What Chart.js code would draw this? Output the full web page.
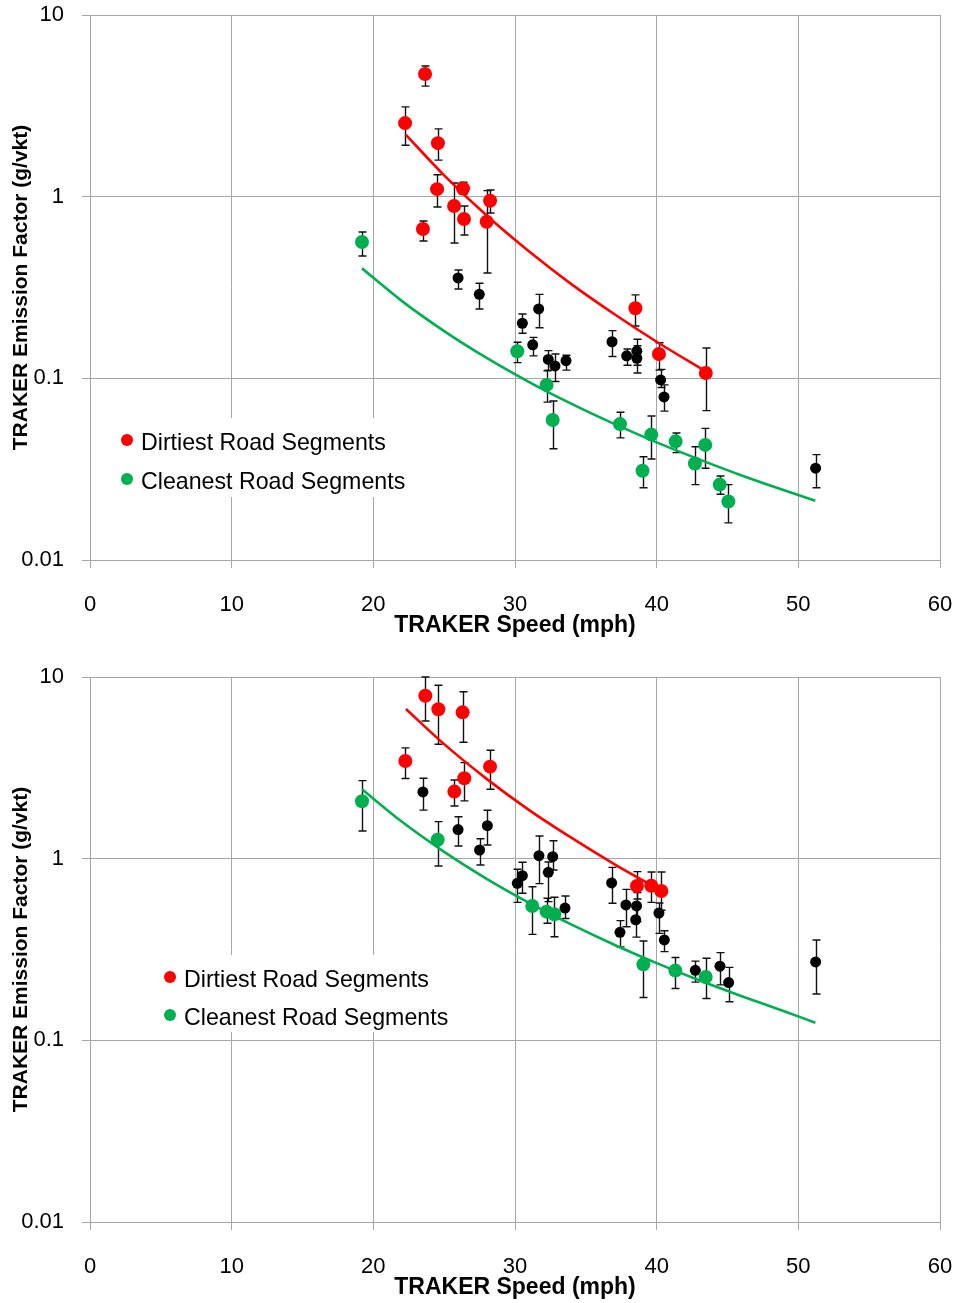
<!DOCTYPE html>
<html>
<head>
<meta charset="utf-8">
<title>TRAKER emission factor vs speed</title>
<script src="https://cdn.jsdelivr.net/npm/chart.js@4.4.1/dist/chart.umd.min.js"></script>
<style>
  html, body { margin: 0; padding: 0; background: #fff; }
  body { width: 956px; height: 1303px; position: relative; overflow: hidden; }
  canvas { position: absolute; left: 0; }
  #upper { top: 0; }
  #lower { top: 662px; }
</style>
</head>
<body>
<canvas id="upper" width="956" height="640"></canvas>
<canvas id="lower" width="956" height="640"></canvas>
<script>
// ---- axes ----
const xTicks = [0, 10, 20, 30, 40, 50, 60];
const yTicks = [0.01, 0.1, 1, 10];
const yTickLabels = ['0.01', '0.1', '1', '10'];
const xTitle = 'TRAKER Speed (mph)';
const yTitle = 'TRAKER Emission Factor (g/vkt)';
const dirtyLabel = 'Dirtiest Road Segments';
const cleanLabel = 'Cleanest Road Segments';

// ---- upper panel ----
const upperDirtySpeed = [23.65, 22.24, 24.56, 24.5, 26.33, 25.7, 26.4, 28.24, 28.0, 23.5, 38.5, 40.16, 43.47];
const upperDirtyEF    = [4.73, 2.54, 1.97, 1.10, 1.11, 0.888, 0.754, 0.95, 0.728, 0.664, 0.243, 0.136, 0.107];
const upperDirtyHi    = [5.24, 3.12, 2.36, 1.32, 1.20, 1.19, 0.888, 1.089, 1.08, 0.735, 0.288, 0.157, 0.147];
const upperDirtyLo    = [4.06, 1.92, 1.59, 0.877, 1.03, 0.556, 0.615, 0.813, 0.38, 0.570, 0.194, 0.111, 0.0664];

const upperCleanSpeed = [19.2, 30.16, 32.23, 32.66, 37.41, 39.0, 39.62, 41.34, 42.7, 43.43, 44.45, 45.06];
const upperCleanEF    = [0.563, 0.141, 0.092, 0.059, 0.056, 0.031, 0.049, 0.045, 0.034, 0.043, 0.026, 0.021];
const upperCleanHi    = [0.639, 0.158, 0.110, 0.075, 0.065, 0.037, 0.062, 0.050, 0.042, 0.053, 0.029, 0.026];
const upperCleanLo    = [0.471, 0.122, 0.074, 0.041, 0.047, 0.025, 0.036, 0.039, 0.026, 0.032, 0.023, 0.016];

const upperOtherSpeed = [25.98, 27.48, 30.52, 31.67, 31.25, 32.35, 32.82, 33.6, 36.85, 37.88, 38.6, 38.6, 40.28, 40.52, 51.22];
const upperOtherEF    = [0.357, 0.290, 0.201, 0.241, 0.153, 0.127, 0.117, 0.125, 0.159, 0.133, 0.141, 0.129, 0.098, 0.079, 0.032];
const upperOtherHi    = [0.395, 0.334, 0.226, 0.290, 0.168, 0.142, 0.136, 0.134, 0.183, 0.145, 0.164, 0.151, 0.112, 0.092, 0.038];
const upperOtherLo    = [0.310, 0.241, 0.177, 0.190, 0.133, 0.111, 0.096, 0.111, 0.132, 0.118, 0.118, 0.107, 0.089, 0.066, 0.025];

const upperDirtyTrendSpeed = [22.3, 25, 28, 31, 34, 37, 40, 43.3];
const upperDirtyTrendEF    = [2.19, 1.31, 0.787, 0.499, 0.329, 0.226, 0.159, 0.111];
const upperCleanTrendSpeed = [19.2, 22, 25, 28, 31, 34, 37, 40, 43, 46, 49, 51.2];
const upperCleanTrendEF    = [0.403, 0.267, 0.182, 0.1295, 0.0954, 0.0723, 0.0561, 0.0444, 0.0358, 0.0292, 0.0242, 0.0212];

// ---- lower panel ----
const lowerDirtySpeed = [23.67, 24.59, 26.3, 22.26, 28.24, 26.42, 25.72, 38.61, 39.62, 40.33];
const lowerDirtyEF    = [7.89, 6.64, 6.39, 3.45, 3.21, 2.77, 2.34, 0.707, 0.710, 0.664];
const lowerDirtyHi    = [10.0, 9.0, 8.3, 4.07, 3.95, 3.38, 2.71, 0.848, 0.845, 0.845];
const lowerDirtyLo    = [5.73, 4.26, 4.37, 2.76, 2.41, 2.08, 1.95, 0.60, 0.575, 0.52];

const lowerCleanSpeed = [19.2, 24.54, 31.22, 32.23, 32.78, 39.06, 41.32, 43.46];
const lowerCleanEF    = [2.07, 1.27, 0.549, 0.511, 0.494, 0.262, 0.242, 0.223];
const lowerCleanHi    = [2.69, 1.60, 0.701, 0.605, 0.613, 0.352, 0.286, 0.283];
const lowerCleanLo    = [1.42, 0.911, 0.383, 0.441, 0.372, 0.172, 0.193, 0.170];

const lowerOtherSpeed = [23.5, 25.98, 28.05, 27.5, 30.16, 30.52, 31.69, 32.66, 32.35, 33.53, 36.82, 37.83, 38.58, 38.52, 37.41, 40.16, 40.54, 42.73, 44.47, 45.08, 51.22];
const lowerOtherEF    = [2.33, 1.445, 1.52, 1.116, 0.732, 0.806, 1.039, 1.025, 0.841, 0.535, 0.735, 0.556, 0.549, 0.461, 0.393, 0.502, 0.357, 0.243, 0.256, 0.208, 0.270];
const lowerOtherHi    = [2.77, 1.70, 1.846, 1.288, 0.874, 0.955, 1.333, 1.256, 0.959, 0.623, 0.896, 0.678, 0.65, 0.53, 0.456, 0.57, 0.401, 0.273, 0.304, 0.252, 0.357];
const lowerOtherLo    = [1.85, 1.174, 1.19, 0.923, 0.575, 0.645, 0.729, 0.866, 0.58, 0.468, 0.568, 0.422, 0.45, 0.37, 0.327, 0.388, 0.308, 0.209, 0.202, 0.163, 0.180];

const lowerDirtyTrendSpeed = [22.3, 25, 28, 31, 34, 37, 39.6];
const lowerDirtyTrendEF    = [6.67, 4.27, 2.75, 1.85, 1.30, 0.934, 0.717];
const lowerCleanTrendSpeed = [19.2, 22, 25, 28, 31, 34, 37, 40, 43, 46, 49, 51.2];
const lowerCleanTrendEF    = [2.41, 1.60, 1.09, 0.775, 0.571, 0.433, 0.336, 0.266, 0.214, 0.175, 0.1445, 0.125];

// ---- styling ----
const RED = '#FF0000';
const GREEN = '#00B050';
const BLACK = '#000000';
const GRID = '#A6A6A6';
const FONT = "'Liberation Sans', Arial, Helvetica, sans-serif";

Chart.defaults.font.family = FONT;
Chart.defaults.color = '#000';

const toPoints = (xs, ys) => xs.map((x, i) => ({ x, y: ys[i] }));

// vertical error bars with caps, drawn under each series' markers
const errorBars = {
  id: 'errorBars',
  beforeDatasetDraw(chart, args) {
    const ds = chart.data.datasets[args.index];
    if (!ds.errHi) return;
    const { ctx, scales: { x, y } } = chart;
    const cap = 4;
    ctx.save();
    ctx.strokeStyle = '#111';
    ctx.lineWidth = 1.4;
    ds.data.forEach((p, i) => {
      const px = Math.round(x.getPixelForValue(p.x)) + 0.5;
      const top = Math.max(y.getPixelForValue(ds.errHi[i]), chart.chartArea.top);
      const bot = y.getPixelForValue(ds.errLo[i]);
      ctx.beginPath();
      ctx.moveTo(px, top); ctx.lineTo(px, bot);
      ctx.moveTo(px - cap, top); ctx.lineTo(px + cap, top);
      ctx.moveTo(px - cap, bot); ctx.lineTo(px + cap, bot);
      ctx.stroke();
    });
    ctx.restore();
  }
};

// boxed legend sitting inside the plot area
const boxLegend = {
  id: 'boxLegend',
  afterDatasetsDraw(chart, args, o) {
    const { ctx, chartArea } = chart;
    const L = chartArea.left, T = chartArea.top;
    ctx.save();
    ctx.fillStyle = '#fff';
    ctx.fillRect(L + o.left, T + o.top, o.width, o.height);
    const entries = chart.data.datasets.filter(d => d.inLegend);
    ctx.font = o.fontSize + 'px ' + FONT;
    ctx.textAlign = 'left';
    ctx.textBaseline = 'middle';
    entries.forEach((d, i) => {
      const cy = T + o.firstRow + i * o.rowGap;
      ctx.fillStyle = d.backgroundColor;
      ctx.beginPath();
      ctx.arc(L + o.markX, cy - 4, 6, 0, Math.PI * 2);
      ctx.fill();
      ctx.fillStyle = '#000';
      ctx.fillText(d.label, L + o.textX, cy);
    });
    ctx.restore();
  }
};

// fixed axis boxes so the plot area keeps the same frame in both panels
const fixX = sc => { sc.height = 80; sc.paddingLeft = 0; sc.paddingRight = 0; };
const fixY = sc => { sc.width = 90; sc.paddingTop = 0; sc.paddingBottom = 0; };

function makeChart(id, s, legendPos) {
  const scatter = (label, xs, ys, hi, lo, color, r, inLegend) => ({
    type: 'scatter', label, data: toPoints(xs, ys), errHi: hi, errLo: lo,
    backgroundColor: color, borderColor: color, borderWidth: 0,
    pointRadius: r, pointHoverRadius: r, inLegend
  });
  const trend = (xs, ys, color) => ({
    type: 'line', label: '', data: toPoints(xs, ys),
    borderColor: color, backgroundColor: color, borderWidth: 2.6,
    pointRadius: 0, cubicInterpolationMode: 'monotone', fill: false
  });
  return new Chart(document.getElementById(id), {
    type: 'scatter',
    data: {
      datasets: [
        trend(s.dirtyTrendX, s.dirtyTrendY, RED),
        trend(s.cleanTrendX, s.cleanTrendY, GREEN),
        scatter(dirtyLabel, s.dirtyX, s.dirtyY, s.dirtyHi, s.dirtyLo, RED, 7, true),
        scatter(cleanLabel, s.cleanX, s.cleanY, s.cleanHi, s.cleanLo, GREEN, 7, true),
        scatter('', s.otherX, s.otherY, s.otherHi, s.otherLo, BLACK, 5.5, false)
      ]
    },
    options: {
      responsive: false,
      animation: false,
      devicePixelRatio: 1,
      layout: { padding: { left: 0, right: 16, top: 15, bottom: 0 } },
      plugins: {
        legend: { display: false },
        tooltip: { enabled: false },
        boxLegend: legendPos
      },
      scales: {
        x: {
          type: 'linear', min: 0, max: 60,
          afterBuildTicks: sc => { sc.ticks = xTicks.map(v => ({ value: v })); },
          afterFit: fixX,
          ticks: { font: { size: 22 }, color: '#000', padding: 24, maxRotation: 0 },
          grid: { color: GRID, lineWidth: 1, tickLength: 8, tickColor: GRID },
          border: { color: GRID, width: 1 },
          title: { display: true, text: xTitle, font: { size: 23, weight: 'bold' }, color: '#000', padding: { top: 0, bottom: 1 } }
        },
        y: {
          type: 'logarithmic', min: 0.01, max: 10,
          afterBuildTicks: sc => { sc.ticks = yTicks.map(v => ({ value: v })); },
          afterFit: fixY,
          ticks: { font: { size: 22 }, color: '#000', padding: 18, callback: (v, i) => yTickLabels[i] },
          grid: { color: GRID, lineWidth: 1, tickLength: 8, tickColor: GRID },
          border: { color: GRID, width: 1 },
          title: { display: true, text: yTitle, font: { size: 21, weight: 'bold' }, color: '#000', padding: { top: 9, bottom: 0 } }
        }
      }
    },
    plugins: [errorBars, boxLegend]
  });
}

makeChart('upper', {
  dirtyX: upperDirtySpeed, dirtyY: upperDirtyEF, dirtyHi: upperDirtyHi, dirtyLo: upperDirtyLo,
  cleanX: upperCleanSpeed, cleanY: upperCleanEF, cleanHi: upperCleanHi, cleanLo: upperCleanLo,
  otherX: upperOtherSpeed, otherY: upperOtherEF, otherHi: upperOtherHi, otherLo: upperOtherLo,
  dirtyTrendX: upperDirtyTrendSpeed, dirtyTrendY: upperDirtyTrendEF,
  cleanTrendX: upperCleanTrendSpeed, cleanTrendY: upperCleanTrendEF
}, { left: 25, top: 403, width: 295, height: 79, markX: 37, textX: 51, firstRow: 429, rowGap: 39, fontSize: 23.2 });

makeChart('lower', {
  dirtyX: lowerDirtySpeed, dirtyY: lowerDirtyEF, dirtyHi: lowerDirtyHi, dirtyLo: lowerDirtyLo,
  cleanX: lowerCleanSpeed, cleanY: lowerCleanEF, cleanHi: lowerCleanHi, cleanLo: lowerCleanLo,
  otherX: lowerOtherSpeed, otherY: lowerOtherEF, otherHi: lowerOtherHi, otherLo: lowerOtherLo,
  dirtyTrendX: lowerDirtyTrendSpeed, dirtyTrendY: lowerDirtyTrendEF,
  cleanTrendX: lowerCleanTrendSpeed, cleanTrendY: lowerCleanTrendEF
}, { left: 68, top: 278, width: 292, height: 77, markX: 80, textX: 94, firstRow: 304, rowGap: 38, fontSize: 23.2 });
</script>
</body>
</html>
